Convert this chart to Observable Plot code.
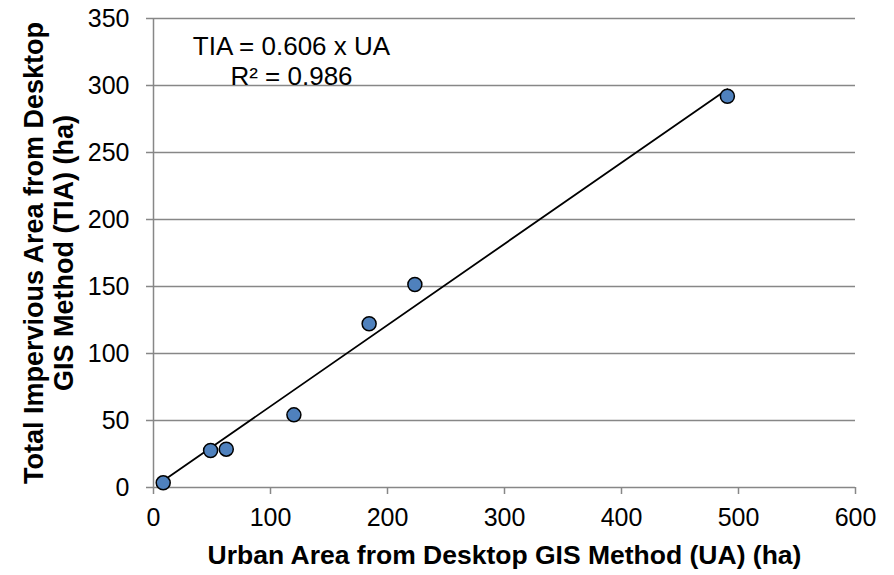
<!DOCTYPE html>
<html><head><meta charset="utf-8">
<script src="https://cdn.jsdelivr.net/npm/d3@7"></script>
<script src="https://cdn.jsdelivr.net/npm/@observablehq/plot@0.6"></script>
<style>body{margin:0;background:#fff}</style>
</head><body><div id="chart"></div>
<script>
const ua = [8.3, 48.8, 62.2, 120, 184.3, 223.4, 490.5];
const tia = [3.5, 27.6, 28.6, 54.2, 122.2, 151.5, 292];
const slope = 0.606;
const xTicks = [0, 100, 200, 300, 400, 500, 600];
const yTicks = [0, 50, 100, 150, 200, 250, 300, 350];
const xLabel = "Urban Area from Desktop GIS Method (UA) (ha)";
const yLabel = "Total Impervious Area from Desktop\nGIS Method (TIA) (ha)";
const equation = "TIA = 0.606 x UA\nR² = 0.986";

const points = ua.map((u, i) => ({ua: u, tia: tia[i]}));
const xMin = d3.min(ua), xMax = d3.max(ua);
const trend = [{ua: xMin, tia: slope * xMin}, {ua: xMax, tia: slope * xMax}];
const gray = "#878787";

const chart = Plot.plot({
  width: 894, height: 575,
  marginLeft: 153, marginRight: 39, marginTop: 18, marginBottom: 88,
  style: {fontFamily: "Liberation Sans, Arial, sans-serif", background: "#fff", color: "#000"},
  x: {domain: [0, 600]},
  y: {domain: [0, 350]},
  marks: [
    Plot.gridY(yTicks, {stroke: gray, strokeOpacity: 1, strokeWidth: 1.5}),
    Plot.ruleX([0], {y1: 0, y2: 350, stroke: gray, strokeWidth: 1.5}),
    Plot.axisX(xTicks, {tickSize: 7, tickPadding: 14, fontSize: 25, stroke: gray, strokeWidth: 1.5, fill: "#000", label: null, tickFormat: d => String(d)}),
    Plot.axisY(yTicks, {tickSize: 7, tickPadding: 17, fontSize: 25, stroke: gray, strokeWidth: 1.5, fill: "#000", label: null, tickFormat: d => String(d)}),
    Plot.line(trend, {x: "ua", y: "tia", stroke: "#000", strokeWidth: 1.8}),
    Plot.dot(points, {x: "ua", y: "tia", r: 7, fill: "#4f81bd", stroke: "#000", strokeWidth: 1.5}),
    Plot.text([equation], {text: d => d, frameAnchor: "top-left", dx: 138, dy: 15, lineAnchor: "top", textAnchor: "middle", fontSize: 26, lineHeight: 1.154, fill: "#000"}),
    Plot.text([xLabel], {text: d => d, frameAnchor: "bottom", dy: 58, lineAnchor: "top", textAnchor: "middle", fontSize: 26.5, fontWeight: "bold", fill: "#000"}),
    Plot.text([yLabel], {text: d => d, frameAnchor: "left", dx: -105, rotate: -90, lineAnchor: "middle", textAnchor: "middle", fontSize: 27, lineHeight: 1.11, fontWeight: "bold", fill: "#000"})
  ]
});
document.getElementById("chart").appendChild(chart);
</script>
</body></html>
